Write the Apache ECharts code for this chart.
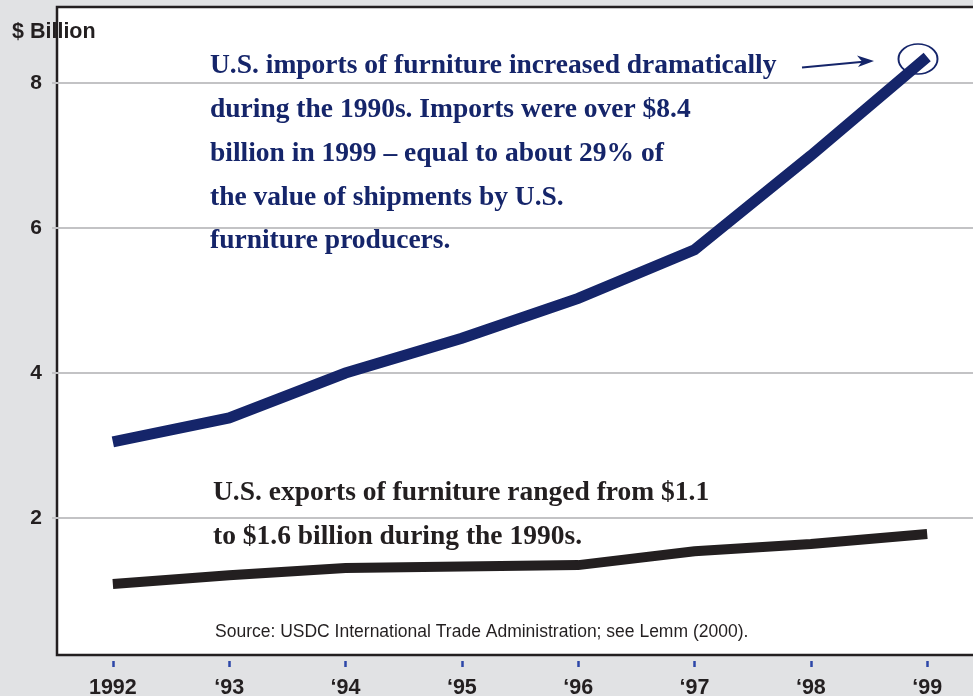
<!DOCTYPE html>
<html>
<head>
<meta charset="utf-8">
<title>U.S. furniture imports and exports</title>
<script src="https://cdn.jsdelivr.net/npm/echarts@6/dist/echarts.min.js"></script>
<style>
  html, body { margin: 0; padding: 0; background: #e1e2e4; }
  #main { width: 973px; height: 696px; }
</style>
</head>
<body>
<div id="main"></div>
<script>
// data ($ billion)
var years = [1992, 1993, 1994, 1995, 1996, 1997, 1998, 1999];
var imports = [3.05, 3.38, 4.0, 4.48, 5.03, 5.70, 7.0, 8.36];
var exports = [1.09, 1.21, 1.31, 1.33, 1.35, 1.54, 1.64, 1.78];
var yTicks = [2, 4, 6, 8];

var importNote = [
  'U.S. imports of furniture increased dramatically',
  'during the 1990s. Imports were over $8.4',
  'billion in 1999 \u2013 equal to about 29% of',
  'the value of shipments by U.S.',
  'furniture producers.'
];
var exportNote = [
  'U.S. exports of furniture ranged from $1.1',
  'to $1.6 billion during the 1990s.'
];
var sourceText = 'Source: USDC International Trade Administration; see Lemm (2000).';

var navy = '#15256a';
var ink = '#231f20';
var sans = '"Liberation Sans", Arial, sans-serif';
var serif = '"Liberation Serif", "Times New Roman", serif';

function pairs(xs, ys) {
  return xs.map(function (x, i) { return [x, ys[i]]; });
}

var myChart = echarts.init(document.getElementById('main'));

var graphics = [];
importNote.forEach(function (t, i) {
  graphics.push({
    type: 'text', x: 210, y: 66 + i * 43.8, z: 10,
    style: { text: t, fill: navy, font: 'bold 27.5px ' + serif, verticalAlign: 'middle' }
  });
});
exportNote.forEach(function (t, i) {
  graphics.push({
    type: 'text', x: 213, y: 493 + i * 43.5, z: 10,
    style: { text: t, fill: ink, font: 'bold 27.5px ' + serif, verticalAlign: 'middle' }
  });
});
graphics.push({
  type: 'text', x: 215, y: 632, z: 10,
  style: { text: sourceText, fill: ink, font: '17.5px ' + sans, verticalAlign: 'middle' }
});
graphics.push({
  type: 'text', x: 12, y: 32, z: 20,
  style: { text: '$ Billion', fill: ink, font: 'bold 21.5px ' + sans, verticalAlign: 'middle' }
});
// arrow + circle pointing at the 1999 value
graphics.push({
  type: 'line', z: 10,
  shape: { x1: 802, y1: 67.5, x2: 866, y2: 61.5 },
  style: { stroke: navy, lineWidth: 2 }
});
graphics.push({
  type: 'polygon', z: 10,
  shape: { points: [[874, 61], [857, 55.5], [862, 61.5], [858, 67]] },
  style: { fill: navy }
});
graphics.push({
  type: 'circle', z: 10, x: 918, y: 59, scaleX: 1.3,
  shape: { cx: 0, cy: 0, r: 15 },
  style: { fill: 'none', stroke: navy, lineWidth: 1.5 }
});

var option = {
  animation: false,
  backgroundColor: '#e1e2e4',
  grid: {
    left: 57, top: 7, width: 940, height: 648,
    outerBoundsMode: 'none', containLabel: false,
    show: true, backgroundColor: '#ffffff',
    borderColor: ink, borderWidth: 2.5
  },
  xAxis: [{
    type: 'value', min: 1991.52, max: 1999.6,
    axisLine: { show: false }, axisTick: { show: false },
    axisLabel: { show: false }, splitLine: { show: false }
  }, {
    type: 'value', min: 1991.52, max: 1999.6, position: 'bottom', offset: 6,
    axisLine: { show: false }, splitLine: { show: false },
    axisTick: { show: true, customValues: years, length: 6, lineStyle: { color: '#2c47a8', width: 2.5 } },
    axisLabel: {
      customValues: years, margin: 16, color: ink,
      fontFamily: sans, fontWeight: 'bold', fontSize: 21.5,
      formatter: function (v) { return v === 1992 ? '1992' : '\u2018' + String(v).slice(2); }
    }
  }],
  yAxis: {
    type: 'value', min: 0.11, max: 9.05,
    axisLine: { show: false },
    axisTick: { show: true, customValues: yTicks, length: 5, lineStyle: { color: '#c3c3c5', width: 2 } },
    axisLabel: {
      customValues: yTicks, margin: 15, color: ink,
      fontFamily: sans, fontWeight: 'bold', fontSize: 21
    },
    splitLine: { show: true, lineStyle: { color: '#c3c3c5', width: 2 } }
  },
  series: [{
    name: 'Imports', type: 'line', data: pairs(years, imports),
    showSymbol: false, z: 5,
    lineStyle: { color: navy, width: 11, cap: 'butt', join: 'miter' }
  }, {
    name: 'Exports', type: 'line', data: pairs(years, exports),
    showSymbol: false, z: 5,
    lineStyle: { color: ink, width: 10, cap: 'butt', join: 'miter' }
  }],
  graphic: graphics
};

myChart.setOption(option);
</script>
</body>
</html>
